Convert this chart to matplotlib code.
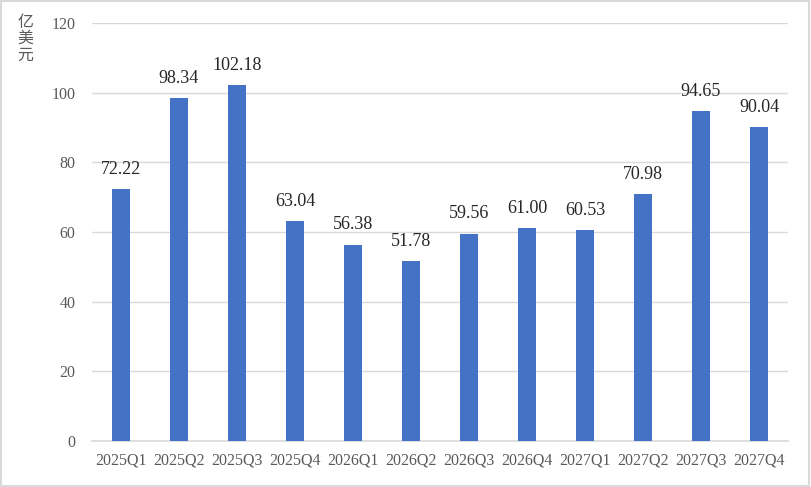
import matplotlib.pyplot as plt
from matplotlib.patches import Rectangle
import numpy as np

quarters = ['2025Q1', '2025Q2', '2025Q3', '2025Q4', '2026Q1', '2026Q2',
            '2026Q3', '2026Q4', '2027Q1', '2027Q2', '2027Q3', '2027Q4']
values = [72.22, 98.34, 102.18, 63.04, 56.38, 51.78,
          59.56, 61.00, 60.53, 70.98, 94.65, 90.04]
y_ticks = [0, 20, 40, 60, 80, 100, 120]

plt.rcParams['font.family'] = ['Liberation Serif', 'DejaVu Serif']

fig = plt.figure(figsize=(8.11, 4.87), dpi=100)
ax = fig.add_axes([0.1134, 0.0945, 0.8582, 0.8583])

x = np.arange(len(quarters))
ax.bar(x, values, width=0.31, color='#4472C4', zorder=3)
for xi, v in zip(x, values):
    ax.annotate(f'{v:.2f}', (xi, v), xytext=(0, 8), textcoords='offset points',
                ha='center', va='bottom', fontsize=13, color='#262626')

ax.set_xlim(-0.5, len(quarters) - 0.5)
ax.set_ylim(0, 120)
ax.set_yticks(y_ticks)
ax.set_xticks(x)
ax.set_xticklabels(quarters)
ax.tick_params(axis='both', length=0, labelsize=11.5, colors='#595959')
ax.tick_params(axis='y', pad=12)
ax.tick_params(axis='x', pad=8)
ax.grid(axis='y', color='#D9D9D9', linewidth=1, zorder=0)
for s in ['top', 'right', 'left']:
    ax.spines[s].set_visible(False)
ax.spines['bottom'].set_color('#D9D9D9')
ax.spines['bottom'].set_linewidth(1.2)

fig.text(0.031, 0.972, '亿\n美\n元', fontsize=11.5, color='#595959', ha='center', va='top',
         family=['Noto Sans CJK SC', 'DejaVu Sans'], linespacing=0.95)

fig.patches.append(Rectangle((0.001, 0.002), 0.997, 0.996, transform=fig.transFigure,
                             fill=False, edgecolor='#D9D9D9', linewidth=1.5))

fig.savefig('out.png', dpi=100)
